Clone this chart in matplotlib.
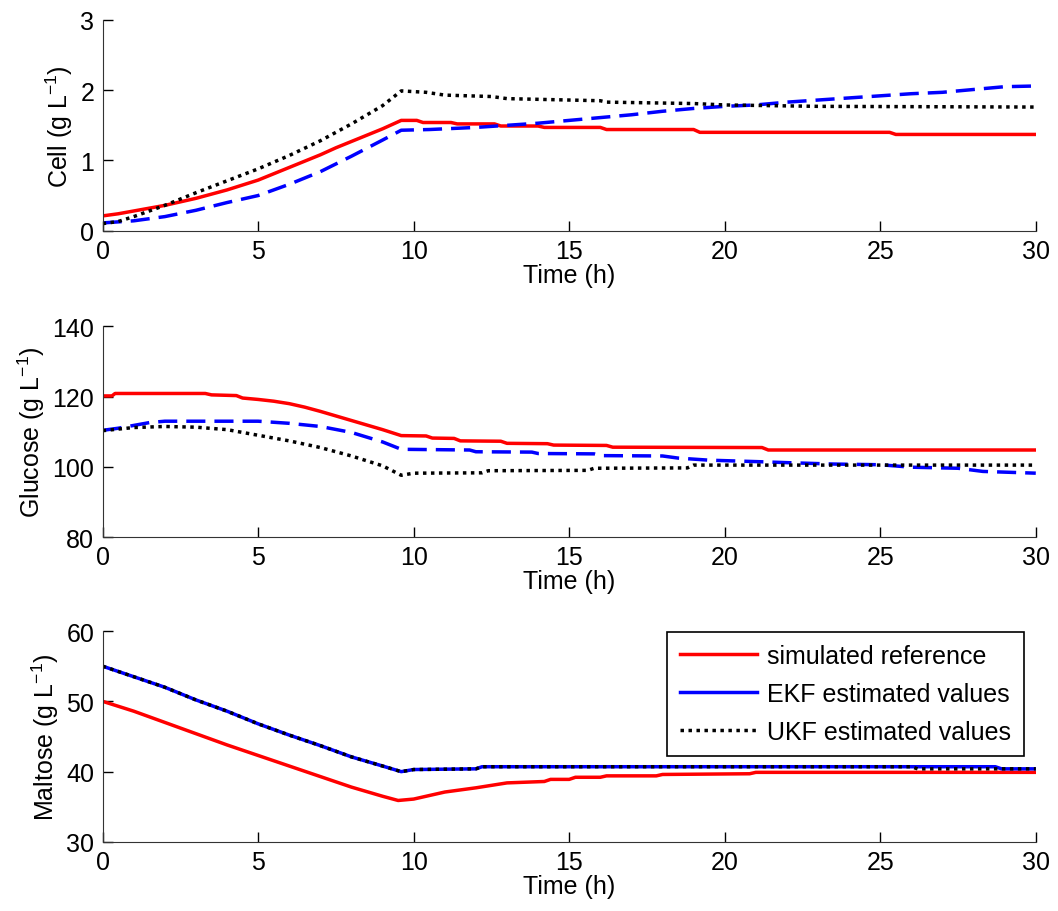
import matplotlib
matplotlib.use('Agg')
import matplotlib.pyplot as plt

plt.rcParams['font.family'] = ['Liberation Sans', 'DejaVu Sans']
plt.rcParams['mathtext.default'] = 'regular'
plt.rcParams['font.size'] = 18

# ---- data (time in h) ----
# Cell (g/L)
cell_ref_t = [0, 0.5, 1, 1.5, 2, 2.5, 3, 3.5, 4, 4.5, 5, 5.5, 6, 6.5, 7, 7.5, 8, 8.5, 9, 9.3, 9.6,
              10.1, 10.3, 11.2, 11.4, 12.6, 12.8, 14.0, 14.2, 16.0, 16.2, 19.0, 19.2, 25.3, 25.5, 30]
cell_ref = [0.21, 0.24, 0.28, 0.32, 0.36, 0.41, 0.46, 0.52, 0.58, 0.65, 0.72, 0.81, 0.90, 0.99, 1.08, 1.18,
            1.27, 1.36, 1.45, 1.51, 1.57, 1.57, 1.54, 1.54, 1.52, 1.52, 1.49, 1.49, 1.47, 1.47, 1.44,
            1.44, 1.40, 1.40, 1.37, 1.37]
cell_ekf_t = [0, 1, 2, 3, 4, 5, 6, 7, 8, 9, 9.6, 10.5, 12, 13, 14, 15, 16, 17, 18, 19, 20,
              21, 22, 23, 24, 25, 26, 27, 28, 29, 30]
cell_ekf = [0.11, 0.14, 0.20, 0.29, 0.40, 0.50, 0.66, 0.84, 1.06, 1.29, 1.43, 1.44, 1.47, 1.50, 1.53,
            1.57, 1.61, 1.65, 1.70, 1.74, 1.77, 1.79, 1.83, 1.86, 1.89, 1.92, 1.95, 1.97, 2.01, 2.05, 2.06]
cell_ukf_t = [0, 0.5, 1, 2, 3, 4, 5, 6, 7, 8, 9, 9.6, 10.4, 11, 12.5, 13, 16, 16.2, 19, 20, 23, 30]
cell_ukf = [0.10, 0.13, 0.20, 0.36, 0.54, 0.71, 0.88, 1.07, 1.28, 1.52, 1.78, 1.99, 1.97, 1.93, 1.91,
            1.88, 1.85, 1.83, 1.81, 1.79, 1.77, 1.76]

# Glucose (g/L)
glu_ref_t = [0, 0.3, 0.4, 3.3, 3.5, 4.3, 4.5, 5, 5.5, 6, 6.5, 7, 7.5, 8, 8.5, 9, 9.6, 10.4, 10.6,
             11.3, 11.5, 12.8, 13, 14.3, 14.5, 16.2, 16.4, 21.2, 21.4, 30]
glu_ref = [120.2, 120.2, 120.9, 120.9, 120.5, 120.3, 119.6, 119.2, 118.7, 118.0, 117.0, 115.8, 114.5,
           113.2, 111.9, 110.6, 108.9, 108.8, 108.2, 108.1, 107.4, 107.3, 106.7, 106.6, 106.2, 106.1,
           105.6, 105.5, 104.8, 104.8]
glu_ekf_t = [0, 0.5, 1, 1.5, 2, 5, 6, 7, 8, 9, 9.6, 11.8, 12, 13.8, 14, 15.8, 16, 18, 18.5, 19.5,
             21, 22, 23.5, 25, 26, 27.5, 28.3, 30]
glu_ekf = [110.4, 111.0, 111.8, 112.6, 113.0, 113.0, 112.4, 111.5, 109.8, 107.1, 105.0, 104.8, 104.3,
           104.2, 103.8, 103.7, 103.2, 103.1, 102.5, 101.9, 101.5, 101.2, 100.8, 100.6, 99.9, 99.6,
           98.7, 98.2]
glu_ukf_t = [0, 1, 2, 3, 4, 5, 6, 7, 8, 9, 9.6, 10, 12.2, 12.4, 15.6, 15.8, 18.8, 19, 30]
glu_ukf = [110.3, 111.2, 111.5, 111.3, 110.6, 109.0, 107.4, 105.5, 103.1, 100.3, 97.6, 98.2, 98.3,
           98.9, 99.0, 99.6, 99.7, 100.5, 100.5]

# Maltose (g/L)
mal_ref_t = [0, 1, 2, 3, 4, 5, 6, 7, 8, 9, 9.5, 10, 10.5, 11, 12, 13, 14.2, 14.4, 15, 15.2, 16, 16.2,
             17.8, 18, 20.8, 21, 30]
mal_ref = [50.0, 48.6, 47.0, 45.4, 43.8, 42.3, 40.8, 39.3, 37.8, 36.5, 35.9, 36.1, 36.6, 37.1, 37.7,
           38.4, 38.6, 38.9, 38.9, 39.2, 39.2, 39.4, 39.4, 39.6, 39.7, 39.9, 39.9]
mal_ekf_t = [0, 1, 2, 3, 4, 5, 6, 7, 8, 9, 9.6, 10, 12, 12.2, 28.7, 28.9, 30]
mal_ekf = [55.0, 53.5, 52.0, 50.2, 48.6, 46.8, 45.2, 43.7, 42.1, 40.8, 40.0, 40.3, 40.4, 40.7, 40.7,
           40.4, 40.4]
mal_ukf_t = [0, 1, 2, 3, 4, 5, 6, 7, 8, 9, 9.6, 10, 12, 12.2, 26.0, 26.2, 30]
mal_ukf = [55.0, 53.5, 52.0, 50.2, 48.6, 46.8, 45.2, 43.7, 42.1, 40.8, 40.0, 40.3, 40.4, 40.7, 40.7,
           40.4, 40.4]

ylabels = ['Cell (g L$^{-1}$)', 'Glucose (g L$^{-1}$)', 'Maltose (g L$^{-1}$)']
ylims = [(0, 3), (80, 140), (30, 60)]
yticks = [[0, 1, 2, 3], [80, 100, 120, 140], [30, 40, 50, 60]]
legend_labels = ['simulated reference', 'EKF estimated values', 'UKF estimated values']

fig = plt.figure(figsize=(10.58, 9.12), dpi=100)
boxes = [[0.097, 0.746, 0.882, 0.231],
         [0.097, 0.410, 0.882, 0.231],
         [0.097, 0.0757, 0.882, 0.2313]]
axes = [fig.add_axes(b) for b in boxes]

lw = 2.5
dash = (5.5, 2.6)
dot = (1, 1.3)

ax = axes[0]
ax.plot(cell_ref_t, cell_ref, color='red', lw=lw)
ax.plot(cell_ekf_t, cell_ekf, color='blue', lw=lw, dashes=dash)
ax.plot(cell_ukf_t, cell_ukf, color='black', lw=lw, dashes=dot)

ax = axes[1]
ax.plot(glu_ref_t, glu_ref, color='red', lw=lw)
ax.plot(glu_ekf_t, glu_ekf, color='blue', lw=lw, dashes=dash)
ax.plot(glu_ukf_t, glu_ukf, color='black', lw=lw, dashes=dot)

ax = axes[2]
l1, = ax.plot(mal_ref_t, mal_ref, color='red', lw=lw)
l2, = ax.plot(mal_ekf_t, mal_ekf, color='blue', lw=lw)
l3, = ax.plot(mal_ukf_t, mal_ukf, color='black', lw=lw, dashes=dot)
leg = ax.legend([l1, l2, l3], legend_labels, loc='upper right', bbox_to_anchor=(0.987, 0.997),
                borderaxespad=0, fancybox=False, framealpha=1, edgecolor='black',
                handlelength=3.1, labelspacing=0.55, borderpad=0.5, handletextpad=0.4)
leg.get_frame().set_linewidth(1.2)

for i, ax in enumerate(axes):
    ax.set_xlim(0, 30)
    ax.set_ylim(*ylims[i])
    ax.set_xticks([0, 5, 10, 15, 20, 25, 30])
    ax.set_yticks(yticks[i])
    ax.spines['top'].set_visible(False)
    ax.spines['right'].set_visible(False)
    ax.spines['left'].set_color('#333333')
    ax.spines['bottom'].set_color('#333333')
    ax.tick_params(direction='in', length=7, width=1, pad=6, labelsize=18)
    ax.set_xlabel('Time (h)', labelpad=0)
    ax.set_ylabel(ylabels[i])

fig.savefig('out.png', dpi=100)
plt.close(fig)
